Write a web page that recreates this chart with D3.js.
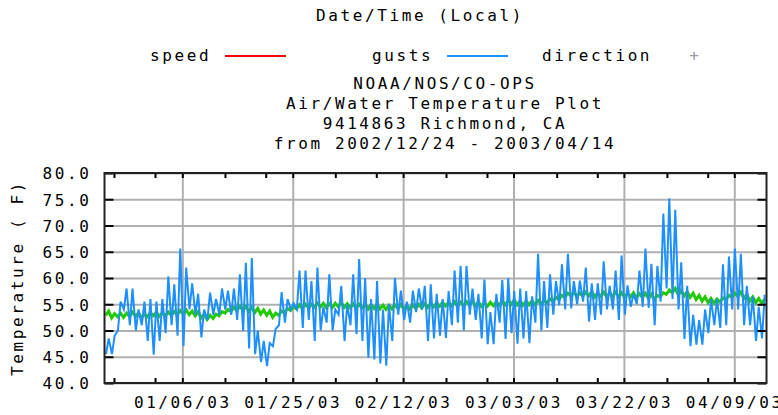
<!DOCTYPE html>
<html>
<head>
<meta charset="utf-8">
<script src="https://cdn.jsdelivr.net/npm/d3@7"></script>
<style>
  html, body { margin: 0; padding: 0; background: #fff; }
  svg text { font-family: "DejaVu Sans Mono", "Liberation Mono", monospace; font-size: 16px; letter-spacing: 2.6px; fill: #000; }
</style>
</head>
<body>
<svg id="chart" width="778" height="415"></svg>
<script>
// ---------- data ----------
const startDate = "2002-12-24";
const endDate = "2003-04-14";
const titleLines = ["NOAA/NOS/CO-OPS", "Air/Water Temperature Plot", "9414863 Richmond, CA", "from 2002/12/24 - 2003/04/14"];
const xAxisTitle = "Date/Time (Local)";
const yAxisTitle = "Temperature ( F)";
const legendNames = ["speed", "gusts", "direction"];

const yTickValues = [40, 45, 50, 55, 60, 65, 70, 75, 80];
// tick positions, in days after the start date
const majorTickDays = [13.05, 31.56, 50.07, 68.58, 87.09, 105.6];
const majorTickLabels = ["01/06/03", "01/25/03", "02/12/03", "03/03/03", "03/22/03", "04/09/03"];
const minorTickDays = [1.59, 8.47, 20.2, 27.03, 38.7, 45.57, 57.26, 64.13, 75.82, 82.63, 94.3, 101.14];

// air temperature: daily low / high (F), day 0 = 2002-12-24
const airLow = [45.5,45.5,50,54,51,50,51,48,45.4,48,
  49.5,51,49,47,54,53,48.7,52,53,53,
  54,53,52,49.9,46.6,45.5,44,43.2,47,51,
  51.5,54,54,50.5,52,48,50,51.5,50,53,
  48,51,49.3,48,44.8,44.5,43.7,43.3,48,53,
  52,51.5,53.5,54,48,48.5,49,48.6,51,51.5,
  50,53,52,48.5,47.4,47.4,51.5,48.4,49.5,47.5,
  48.5,47.6,51.5,50,50.5,53,54.8,54,54.2,55,
  55.5,51.7,52,53,54,54,52,53,54.5,55,
  54.5,54.3,51,55.5,58,56,54,48.4,47,47.3,
  47.3,49.5,51,50.5,51,54,54,51,51,48,48.5];
const airHigh = [48.5,49,55.5,58,58,54,55.5,56,55.5,56,
  60.3,58.8,65.6,62,59,57,54,57.2,56,58,
  57.6,58,60.7,62.9,63.8,50,48,47.6,50.3,57.3,
  56,55.2,61.4,61.4,59.4,62,54.5,60.7,54,58.5,
  55,60.7,63.6,60,56,59.4,54,55,60,57.6,
  55.5,57.6,58,58.5,58.8,57,56,57.5,61.4,62.3,
  62.3,58,57,59.7,53.5,57,59.6,60,57.5,58,
  57.5,56.5,64.6,59.4,60.7,59.4,62.6,64.6,59.4,59.5,
  62,59,59,63.2,58.5,61.4,64.3,58.6,57,61.4,
  65.6,62.7,62.3,72.3,75.2,73,63,58.5,53,52,
  54,56,56,62.6,64.1,65.6,64.6,58.5,56.5,54.5,56.8];

// water temperature: daily low / high (F)
const waterLow = [52.9,52.4,52.6,52.5,52.7,52.7,52.4,52.6,52.8,52.7,
  52.8,52.9,53.0,53.1,53.0,52.8,52.4,52.1,52.3,52.8,
  53.3,53.6,53.8,53.9,53.6,53.4,53.1,52.9,52.5,52.9,
  53.4,53.8,54.1,54.2,54.3,54.4,54.5,54.3,54.4,54.5,
  54.4,54.3,54.2,54.3,54.1,54.2,54.1,54.0,54.1,54.2,
  54.0,54.1,54.2,54.3,54.4,54.5,54.6,54.7,54.7,54.6,
  54.7,54.8,54.7,54.6,54.6,54.7,54.8,54.9,55.0,54.9,
  54.8,54.9,54.9,55.0,55.2,55.5,55.9,56.3,56.6,56.4,
  56.5,56.6,56.4,56.5,56.4,56.5,56.4,56.3,56.4,56.2,
  56.3,56.1,55.9,56.4,56.9,57.2,56.8,56.6,56.3,55.9,
  55.6,55.3,55.2,55.4,55.9,56.3,56.5,56.1,55.6,55.3,55.2];
const waterHigh = [53.7,53.2,53.3,53.3,53.5,53.4,53.1,53.4,53.5,53.4,
  53.5,53.6,53.8,53.9,53.7,53.6,53.1,52.9,53.1,53.6,
  54.0,54.4,54.6,54.6,54.4,54.2,53.9,53.7,53.3,53.7,
  54.2,54.5,54.9,55.0,55.0,55.2,55.2,55.1,55.2,55.3,
  55.1,55.1,55.0,55.0,54.9,55.0,54.8,54.8,54.9,55.0,
  54.8,54.9,55.0,55.1,55.2,55.3,55.4,55.4,55.5,55.4,
  55.5,55.6,55.5,55.3,55.4,55.5,55.6,55.7,55.8,55.7,
  55.6,55.7,55.7,55.8,56.0,56.3,56.7,57.1,57.4,57.2,
  57.3,57.4,57.2,57.3,57.2,57.3,57.2,57.1,57.2,57.0,
  57.1,56.9,56.7,57.2,57.7,58.0,57.6,57.4,57.1,56.7,
  56.4,56.1,56.0,56.2,56.7,57.1,57.3,56.9,56.4,56.1,56.0];

// ---------- chart ----------
const DAY = 86400000;
const t0 = new Date(startDate + "T00:00:00Z");
const t1 = new Date(endDate + "T00:00:00Z");
const dayToDate = d => new Date(t0.getTime() + d * DAY);

const svg = d3.select("#chart");
const plot = { left: 104.5, right: 766.5, top: 173, bottom: 383 };
const W = plot.right - plot.left, H = plot.bottom - plot.top;

const x = d3.scaleUtc().domain([t0, t1]).range([plot.left, plot.right]);
const y = d3.scaleLinear().domain([40, 80]).range([plot.bottom, plot.top]);

const majorDates = majorTickDays.map(dayToDate);
const minorDates = minorTickDays.map(dayToDate);
const allXTicks = majorDates.concat(minorDates);

// gridlines
svg.append("g").attr("transform", `translate(${plot.left},0)`)
  .call(d3.axisLeft(y).tickValues(yTickValues).tickSize(-W).tickFormat(""))
  .call(g => g.select(".domain").remove())
  .call(g => g.selectAll("line").attr("stroke", "#b0b0b0").attr("stroke-width", 2));
svg.append("g").attr("transform", `translate(0,${plot.bottom})`)
  .call(d3.axisBottom(x).tickValues(majorDates).tickSize(-H).tickFormat(""))
  .call(g => g.select(".domain").remove())
  .call(g => g.selectAll("line").attr("stroke", "#b0b0b0").attr("stroke-width", 2));

// clip
svg.append("clipPath").attr("id", "clip").append("rect")
  .attr("x", plot.left).attr("y", plot.top).attr("width", W).attr("height", H);

// series points
const airPts = [];
airLow.forEach((v, i) => {
  airPts.push({ t: dayToDate(i + 0.25), v: v });
  airPts.push({ t: dayToDate(i + 0.7), v: airHigh[i] });
});
const waterPts = [];
waterLow.forEach((v, i) => {
  waterPts.push({ t: dayToDate(i + 0.2), v: v });
  waterPts.push({ t: dayToDate(i + 0.7), v: waterHigh[i] });
});
const line = d3.line().x(d => x(d.t)).y(d => y(d.v));

const lines = svg.append("g").attr("clip-path", "url(#clip)");
lines.append("path").datum(waterPts).attr("d", line)
  .attr("fill", "none").attr("stroke", "#22c800").attr("stroke-width", 3);
lines.append("path").datum(airPts).attr("d", line)
  .attr("fill", "none").attr("stroke", "#1e8fff").attr("stroke-width", 2).attr("stroke-linejoin", "miter");

// tick marks (inward, mirrored)
const tickStyle = g => { g.select(".domain").remove(); g.selectAll("line").attr("stroke", "#000").attr("stroke-width", 2); g.selectAll("text").remove(); };
svg.append("g").attr("transform", `translate(${plot.left},0)`).call(d3.axisLeft(y).tickValues(yTickValues).tickSize(-9)).call(tickStyle);
svg.append("g").attr("transform", `translate(${plot.right},0)`).call(d3.axisRight(y).tickValues(yTickValues).tickSize(-9)).call(tickStyle);
svg.append("g").attr("transform", `translate(0,${plot.bottom})`).call(d3.axisBottom(x).tickValues(allXTicks).tickSize(-5)).call(tickStyle);
svg.append("g").attr("transform", `translate(0,${plot.top})`).call(d3.axisTop(x).tickValues(allXTicks).tickSize(-5)).call(tickStyle);

// frame
svg.append("rect").attr("x", plot.left).attr("y", plot.top).attr("width", W).attr("height", H)
  .attr("fill", "none").attr("stroke", "#222").attr("stroke-width", 2);

// y labels
svg.append("g").attr("transform", `translate(${plot.left},0)`)
  .call(d3.axisLeft(y).tickValues(yTickValues).tickSize(0).tickPadding(13).tickFormat(d3.format(".1f")))
  .call(g => g.select(".domain").remove())
  .call(g => g.selectAll("text").attr("font-family", null).attr("font-size", null).attr("dy", "0.36em"));

// x labels
const labelMap = new Map(majorDates.map((d, i) => [d.getTime(), majorTickLabels[i]]));
svg.append("g").attr("transform", `translate(0,${plot.bottom})`)
  .call(d3.axisBottom(x).tickValues(majorDates).tickSize(0).tickPadding(14).tickFormat(d => labelMap.get(d.getTime())))
  .call(g => g.select(".domain").remove())
  .call(g => g.selectAll("text").attr("font-family", null).attr("font-size", null));

// y title
svg.append("text").attr("transform", "translate(23,278) rotate(-90)")
  .attr("text-anchor", "middle").text(yAxisTitle);

// x axis title at top
svg.append("text").attr("x", 420).attr("y", 21).attr("text-anchor", "middle").text(xAxisTitle);

// legend
const legendX = [150, 372, 542];
const legendColors = ["#ff0000", "#1e8fff", null];
legendNames.forEach((name, i) => {
  svg.append("text").attr("x", legendX[i]).attr("y", 61).text(name);
});
svg.append("line").attr("x1", 225).attr("x2", 286).attr("y1", 56).attr("y2", 56).attr("stroke", legendColors[0]).attr("stroke-width", 2);
svg.append("line").attr("x1", 447).attr("x2", 508).attr("y1", 56).attr("y2", 56).attr("stroke", legendColors[1]).attr("stroke-width", 2);
svg.append("text").attr("x", 694).attr("y", 61).attr("text-anchor", "middle").style("fill", "#999").style("letter-spacing", "0").text("+");

// title lines
titleLines.forEach((t, i) => {
  svg.append("text").attr("x", 445).attr("y", 89 + i * 20).attr("text-anchor", "middle").text(t);
});
</script>
</body>
</html>
